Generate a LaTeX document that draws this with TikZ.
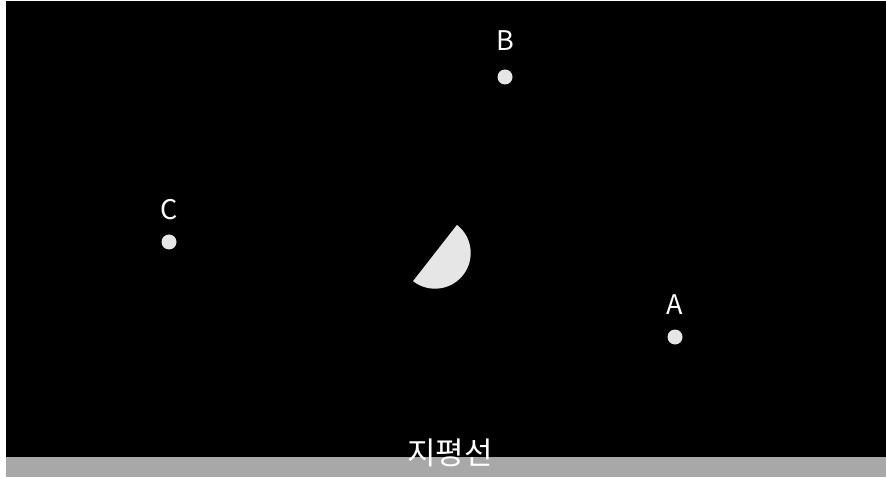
\documentclass[tikz,border=0pt]{standalone}
\usepackage{fontspec}
\newfontfamily\krfont{Noto Sans CJK KR}
\definecolor{moonlit}{HTML}{E6E6E6}
\definecolor{horizon}{HTML}{A8A8A8}
\tikzset{dot/.style={circle,fill=moonlit,inner sep=0pt,minimum size=15pt},
  ptlabel/.style={text=white,inner sep=0pt}}
\begin{document}
\begin{tikzpicture}[x=1pt,y=1pt,font=\krfont\fontsize{27}{32}\selectfont]
\useasboundingbox (0,0) rectangle (886,477);
\fill[white] (0,0) rectangle (886,477);
\fill[black] (6,20) rectangle (886,476);
\fill[horizon] (6,0) rectangle (886,20);
% moon, lit half towards lower right
\fill[moonlit] (435,224) ++(52:35.7) arc[start angle=52,end angle=-128,radius=35.7] -- cycle;
\foreach \n/\x/\y/\ly in {A/675/140/172,B/505/400/436,C/169/235/267}{\node[ptlabel] (lab\n) at (\x,\ly) {\n};\node[dot] (dot\n) at (\x,\y) {};}
\node[ptlabel,font=\krfont\fontsize{31}{36}\selectfont] (horizonlabel) at (450,24) {지평선};
\end{tikzpicture}
\end{document}
